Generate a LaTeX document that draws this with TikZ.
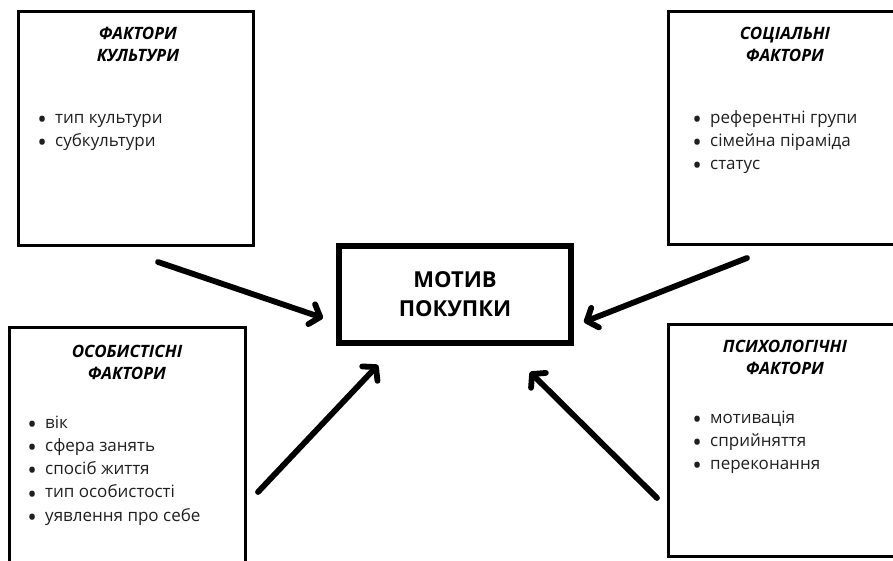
\documentclass[tikz,border=0pt]{standalone}
\usepackage{fontspec}
\usepackage{graphicx}
\setmainfont{Open Sans}
\usetikzlibrary{arrows.meta}
\begin{document}
\begin{tikzpicture}[x=1pt,y=-1pt,
 factbox/.style={draw, line width=2.8pt, rectangle, inner sep=0pt, outer sep=0pt, anchor=north west},
 ftitle/.style={font=\fontsize{17}{22.5}\selectfont\bfseries\itshape, align=center, inner sep=0pt},
 flist/.style={font=\fontsize{17}{23.3}\selectfont, text=black!88, align=left, anchor=north west, inner sep=0pt},
 mainbox/.style={draw, line width=6.5pt, rectangle, inner sep=0pt, outer sep=0pt, minimum width=232pt, minimum height=97pt, font=\fontsize{22}{29}\selectfont\bfseries, align=center},
 arr/.style={line width=5.8pt, line cap=round, -{Straight Barb[length=9pt,width=21pt,line cap=round,line join=round]}}
]
\newcommand{\bl}{\makebox[26pt][c]{\raisebox{-0.3em}{\scalebox{1.5}{\textbullet}}}}
\useasboundingbox (0,0) rectangle (893,561);
\clip (0,0) rectangle (893,561);
% boxes
\node[factbox, minimum width=235pt, minimum height=234pt] (cult) at (18.5,11.5) {};
\node[factbox, minimum width=240pt, minimum height=233pt] (soc) at (668.5,11.5) {};
\node[factbox, minimum width=236pt, minimum height=250pt] (pers) at (9.5,327.5) {};
\node[factbox, minimum width=240pt, minimum height=232pt] (psy) at (668.5,324.5) {};
\node[mainbox] (motive) at (455,294.5) {МОТИВ\\ПОКУПКИ};
% titles
\node[ftitle] (cultt) at (138,44.5) {ФАКТОРИ\\КУЛЬТУРИ};
\node[ftitle] (soct) at (785,44.5) {СОЦІАЛЬНІ\\ФАКТОРИ};
\node[ftitle] (perst) at (127,362.5) {ОСОБИСТІСНІ\\ФАКТОРИ};
\node[ftitle] (psyt) at (785,357.5) {ПСИХОЛОГІЧНІ\\ФАКТОРИ};
% lists
\node[flist] (cultl) at (29,106.5) {\strut\bl тип культури\\\bl субкультури};
\node[flist] (socl) at (684,106.5) {\strut\bl референтні групи\\\bl сімейна піраміда\\\bl статус};
\node[flist] (persl) at (19,411.5) {\strut\bl вік\\\bl сфера занять\\\bl спосіб життя\\\bl тип особистості\\\bl уявлення про себе};
\node[flist] (psyl) at (684,406.5) {\strut\bl мотивація\\\bl сприйняття\\\bl переконання};
% arrows
\coordinate (as) at (158,262); \coordinate (ae) at (323,318);
\coordinate (bs) at (258,492); \coordinate (be) at (378,365);
\coordinate (cs) at (747,258); \coordinate (ce) at (584,322);
\coordinate (ds) at (657,498); \coordinate (de) at (530,372);
\draw[arr] (as) -- (ae);
\draw[arr] (bs) -- (be);
\draw[arr] (cs) -- (ce);
\draw[arr] (ds) -- (de);
\end{tikzpicture}
\end{document}
